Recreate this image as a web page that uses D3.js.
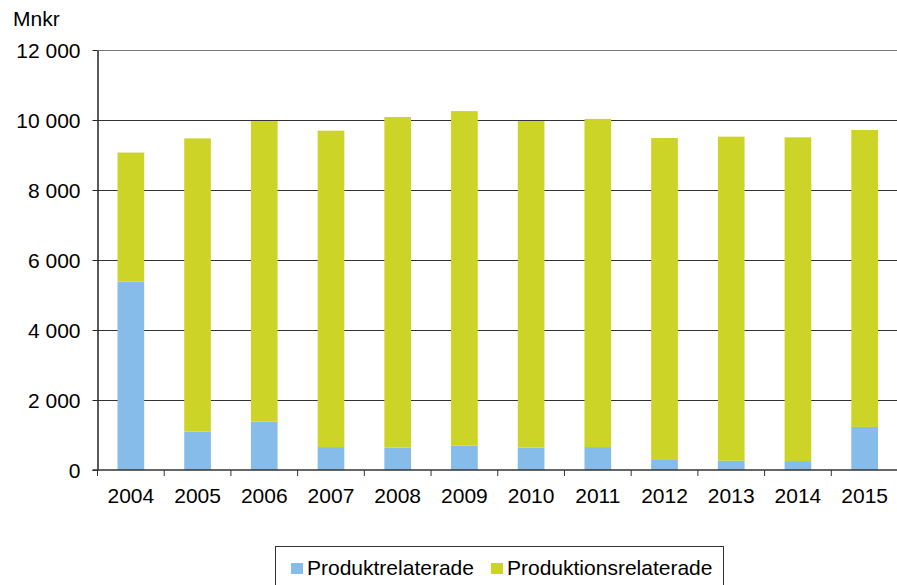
<!DOCTYPE html>
<html>
<head>
<meta charset="utf-8">
<script src="https://cdn.jsdelivr.net/npm/d3@7"></script>
<style>
  body { margin: 0; background: #fff; }
  svg text { font-family: "Liberation Sans", Arial, sans-serif; fill: #000; }
</style>
</head>
<body>
<div id="chart"></div>
<script>
// data (Mnkr)
const years = ['2004', '2005', '2006', '2007', '2008', '2009', '2010', '2011', '2012', '2013', '2014', '2015'];
const produkt = [5380, 1095, 1380, 655, 640, 695, 640, 655, 285, 265, 255, 1230];
const produktion = [3690, 8380, 8590, 9040, 9445, 9560, 9330, 9375, 9200, 9260, 9250, 8485];
const yTicks = [0, 2000, 4000, 6000, 8000, 10000, 12000];
const seriesNames = ['Produktrelaterade', 'Produktionsrelaterade'];

const blue = '#86bce9';
const green = '#cdd428';

const width = 897, height = 585;
const margin = { top: 50, right: -1, bottom: 115, left: 97.5 };

const svg = d3.select('#chart').append('svg')
    .attr('width', width)
    .attr('height', height);

const x = d3.scaleBand()
    .domain(years)
    .range([margin.left, width - margin.right])
    .paddingInner(0.6)
    .paddingOuter(0.3);

const y = d3.scaleLinear()
    .domain([0, 12000])
    .range([height - margin.bottom, margin.top]);

const fmt = d => d3.format(',')(d).replace(',', ' ');

// gridlines
svg.append('g')
    .selectAll('line')
    .data(yTicks.filter(d => d > 0))
    .join('line')
    .attr('x1', margin.left)
    .attr('x2', width)
    .attr('y1', d => Math.round(y(d)) + 0.5)
    .attr('y2', d => Math.round(y(d)) + 0.5)
    .attr('stroke', d => d === 12000 ? '#777' : '#333')
    .attr('stroke-width', 1);

// stacked bars
const rows = years.map((yr, i) => ({ year: yr, a: produkt[i], b: produktion[i] }));
const stacked = d3.stack().keys(['a', 'b'])(rows);
const colors = [blue, green];

svg.append('g')
    .selectAll('g')
    .data(stacked)
    .join('g')
    .attr('fill', (d, i) => colors[i])
    .selectAll('rect')
    .data(d => d)
    .join('rect')
    .attr('x', d => x(d.data.year))
    .attr('y', d => y(d[1]))
    .attr('width', x.bandwidth())
    .attr('height', d => y(d[0]) - y(d[1]));

// y axis
const yAxis = d3.axisLeft(y)
    .tickValues(yTicks)
    .tickFormat(fmt)
    .tickSizeInner(5)
    .tickSizeOuter(0)
    .tickPadding(12);

const gy = svg.append('g')
    .attr('transform', `translate(${margin.left},0)`)
    .call(yAxis);
gy.select('.domain').attr('stroke', '#222').attr('stroke-width', 1.5);
gy.selectAll('.tick line').attr('stroke', '#222');
gy.selectAll('.tick text')
    .style('font-size', '21px')
    .attr('dy', '0.36em');

// x axis line with boundary ticks
const gx = svg.append('g')
    .attr('transform', `translate(0,${y(0)})`);
gx.append('line')
    .attr('x1', margin.left - 5)
    .attr('x2', width)
    .attr('stroke', '#333')
    .attr('stroke-width', 1.5);
gx.selectAll('.bound')
    .data(years)
    .join('line')
    .attr('class', 'bound')
    .attr('x1', d => x(d) - x.bandwidth() * 0.75)
    .attr('x2', d => x(d) - x.bandwidth() * 0.75)
    .attr('y1', 0)
    .attr('y2', 6)
    .attr('stroke', '#333');
gx.selectAll('.lbl')
    .data(years)
    .join('text')
    .attr('class', 'lbl')
    .attr('x', d => x(d) + x.bandwidth() / 2)
    .attr('y', 33)
    .attr('text-anchor', 'middle')
    .style('font-size', '21px')
    .text(d => d);

// unit label
svg.append('text')
    .attr('x', 13)
    .attr('y', 26)
    .style('font-size', '21px')
    .text('Mnkr');

// legend
const legend = svg.append('g');
legend.append('rect')
    .attr('x', 275.5)
    .attr('y', 546.5)
    .attr('width', 448)
    .attr('height', 50)
    .attr('fill', 'none')
    .attr('stroke', '#333');

const legendX = [291, 491];
const items = legend.selectAll('.item')
    .data(seriesNames)
    .join('g')
    .attr('class', 'item')
    .attr('transform', (d, i) => `translate(${legendX[i]},563)`);
items.append('rect')
    .attr('width', 12)
    .attr('height', 11)
    .attr('fill', (d, i) => colors[i]);
items.append('text')
    .attr('x', 16)
    .attr('y', 12)
    .style('font-size', '21px')
    .text(d => d);
</script>
</body>
</html>
